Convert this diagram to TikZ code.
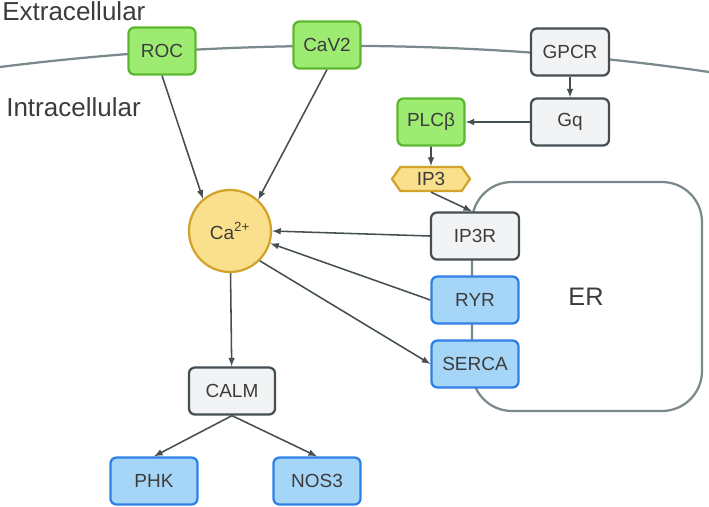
\documentclass[tikz,border=0pt]{standalone}
\usepackage{fontspec}
\setmainfont{Liberation Sans}
\usetikzlibrary{shapes.symbols}
\definecolor{grnfill}{HTML}{9EEB72}
\definecolor{grnline}{HTML}{5CB82E}
\definecolor{gryfill}{HTML}{F1F3F5}
\definecolor{gryline}{HTML}{454F53}
\definecolor{blufill}{HTML}{A6D6F7}
\definecolor{bluline}{HTML}{2E7FE6}
\definecolor{ylwfill}{HTML}{FAE08C}
\definecolor{ylwline}{HTML}{D2A32A}
\definecolor{membr}{HTML}{7A898C}
\definecolor{txt}{HTML}{3C3C3C}
\tikzset{
	prot/.style={
			draw, rounded corners=0.15cm, line width=1.6pt,
			minimum height=1.175cm, minimum width=#1,
			text=txt, font=\fontsize{13.5}{16}\selectfont
		},
	pgreen/.style={prot=1.675cm, fill=grnfill, draw=grnline},
	pgray/.style={prot=#1, fill=gryfill, draw=gryline},
	pblue/.style={prot=2.175cm, fill=blufill, draw=bluline},
	link/.style={color=gryline, line width=1.1pt, -latex},
	region/.style={text=txt, font=\fontsize{18.5}{20}\selectfont, inner sep=0pt}
}

\begin{document}
\begin{tikzpicture}[x=0.025cm,y=-0.025cm]
		\useasboundingbox (0,0) rectangle (709,506);
		% cell membrane and ER
		\draw [color=membr,line width=1.6pt] (0,67) .. controls (230,38) and (480,38) .. (709,72);
		\draw [color=membr,line width=1.6pt,rounded corners=1cm] (472,182) rectangle (702,411);
		\node [region,anchor=west] (extra) at (2,11) {Extracellular};
		\node [region,anchor=west] (intra) at (6,107) {Intracellular};
		\node [region,font=\fontsize{18}{20}\selectfont] (er) at (586,297) {ER};

		\node [pgreen] (roc) at (162,51) {ROC};
		\node [pgreen] (cav) at (327,45) {CaV2};
		\node [pgray=1.95cm] (gpcr) at (570,52) {GPCR};
		\node [pgray=1.95cm] (gq) at (570,122) {Gq};
		\node [pgreen] (plc) at (431,122) {PLCβ};
		\node [signal, signal to=east and west, signal pointer angle=110,
			fill=ylwfill, draw=ylwline, line width=1.6pt, text=txt,
			font=\fontsize{13.5}{16}\selectfont, minimum width=1.95cm,
			minimum height=0.6cm, inner sep=0.5pt] (ip3) at (431,179) {IP3};
		\node [pgray=2.2cm] (ip3r) at (475,236) {IP3R};
		\node [pblue] (ryr) at (475,300) {RYR};
		\node [pblue] (serca) at (475,364) {SERCA};
		\node [circle, fill=ylwfill, draw=ylwline, line width=1.6pt, text=txt,
			font=\fontsize{13.5}{16}\selectfont, minimum size=2.05cm] (ca) at (230,231) {Ca\textsuperscript{2+}};
		\node [pgray=2.15cm] (calm) at (232,391) {CALM};
		\node [pblue] (phk) at (154,481) {PHK};
		\node [pblue] (nos) at (317,481) {NOS3};

		\draw [link] (roc.south) -- (ca.130);
		\draw [link] (cav.south) -- (ca.48);
		\draw [link] (gpcr) -- (gq);
		\draw [link] (gq) -- (plc);
		\draw [link] (plc) -- (ip3);
		\draw [link] (ip3.south) -- ([xshift=-0.075cm]ip3r.north);
		\draw [link] (ip3r.west) -- (ca.east);
		\draw [link] (ryr.west) -- (ca.-17);
		\draw [link] (ca.-45) -- (serca.west);
		\draw [link] (ca) -- (calm);
		\draw [link] (calm.south) -- (phk.north);
		\draw [link] (calm.south) -- (nos.north);
	\end{tikzpicture}
\end{document}
